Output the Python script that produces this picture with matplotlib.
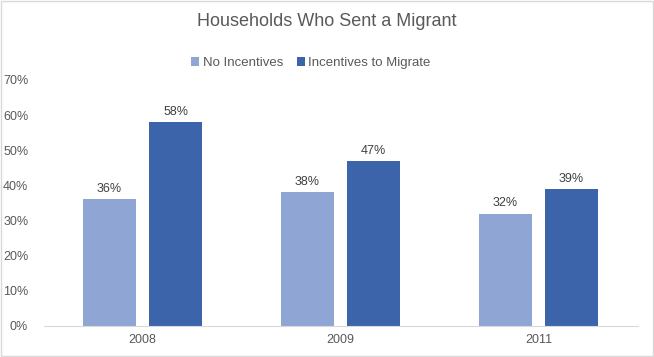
import matplotlib.pyplot as plt
import numpy as np
from matplotlib.ticker import PercentFormatter

plt.rcParams['font.family'] = ['Liberation Sans', 'DejaVu Sans']

years = ['2008', '2009', '2011']
no_incentives = [0.36, 0.38, 0.32]
incentives = [0.58, 0.47, 0.39]

light = '#8FA5D3'
dark = '#3B64AB'
txt = '#595959'

fig = plt.figure(figsize=(6.54, 3.57), dpi=100)
ax = fig.add_axes([43.5 / 654, 31 / 357, (637.5 - 43.5) / 654, (326 - 80) / 357])

x = np.arange(len(years))
w = 0.268
off = 0.167
b1 = ax.bar(x - off, no_incentives, w, color=light, label='No Incentives')
b2 = ax.bar(x + off, incentives, w, color=dark, label='Incentives to Migrate')

for bars in (b1, b2):
    for r in bars:
        ax.text(r.get_x() + r.get_width() / 2, r.get_height() + 0.012,
                f'{r.get_height():.0%}', ha='center', va='bottom',
                fontsize=9, color='#404040')

ax.set_xlim(-0.5, 2.5)
ax.set_ylim(0, 0.7)
ax.set_yticks(np.arange(0, 0.71, 0.1))
ax.yaxis.set_major_formatter(PercentFormatter(1.0, decimals=0))
ax.set_xticks(x)
ax.set_xticklabels(years)
ax.tick_params(axis='both', length=0, labelsize=9, colors=txt)
ax.tick_params(axis='y', pad=11)
ax.tick_params(axis='x', pad=6)
for s in ['top', 'right', 'left']:
    ax.spines[s].set_visible(False)
ax.spines['bottom'].set_color('#D9D9D9')

fig.text(0.5, 1 - 22 / 357, 'Households Who Sent a Migrant', ha='center', va='center',
         fontsize=13, color=txt)
fig.legend(loc='center', bbox_to_anchor=(311 / 654, 1 - 63 / 357), ncol=2, frameon=False,
           fontsize=9.5, handlelength=0.6, handleheight=0.6, handletextpad=0.3,
           columnspacing=1.0, labelcolor=txt)

fig.patches.append(plt.Rectangle((0.001, 0.002), 0.997, 0.995, transform=fig.transFigure,
                                 fill=False, edgecolor='#D9D9D9', linewidth=1))

fig.savefig('out.png', dpi=100)
